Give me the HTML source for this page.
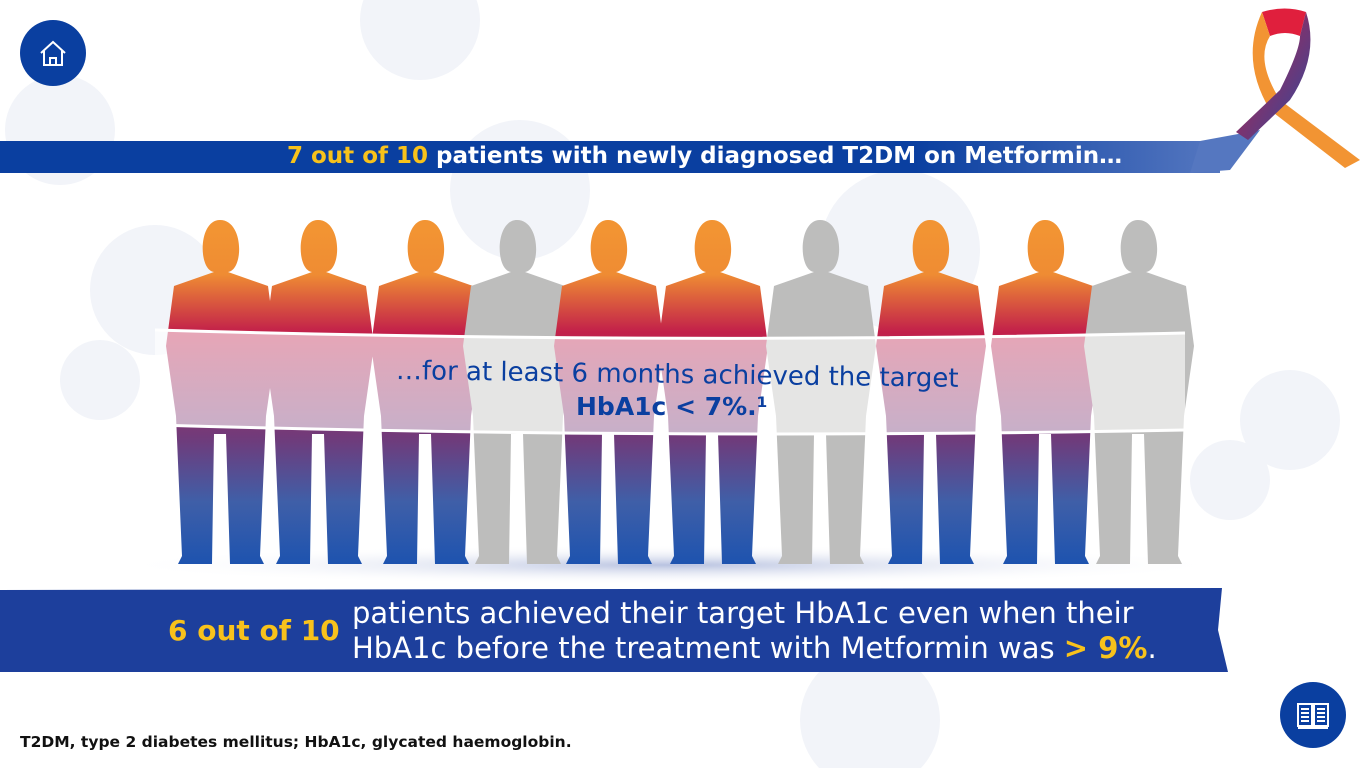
<!DOCTYPE html>
<html><head><meta charset="utf-8"><style>
body{margin:0;width:1366px;height:768px;overflow:hidden;background:#fff;font-family:"DejaVu Sans","Liberation Sans",sans-serif;position:relative}
.abs{position:absolute}
</style></head><body>
<svg class="abs" style="left:0;top:0" width="1366" height="768">
<defs>
<linearGradient id="pg" gradientUnits="userSpaceOnUse" x1="0" y1="230" x2="0" y2="570">
<stop offset="0" stop-color="#f29433"/><stop offset="0.13" stop-color="#ef8c33"/><stop offset="0.3" stop-color="#c2204a"/><stop offset="0.62" stop-color="#6e3c7c"/><stop offset="0.8" stop-color="#3f5fa8"/><stop offset="1" stop-color="#1a52b0"/></linearGradient>
<linearGradient id="tb" x1="0" x2="1"><stop offset="0" stop-color="#0a3fa0"/><stop offset="0.75" stop-color="#0a3fa0"/><stop offset="1" stop-color="#5577c0"/></linearGradient>
<radialGradient id="sh"><stop offset="0" stop-color="#b8c2e0"/><stop offset="1" stop-color="#fff" stop-opacity="0"/></radialGradient>
<linearGradient id="rb" x1="0" y1="0" x2="1" y2="1"><stop offset="0" stop-color="#e8213c"/><stop offset="0.5" stop-color="#7a3470"/><stop offset="1" stop-color="#2a4aa0"/></linearGradient>
</defs>
<g fill="#f2f4f9">
<circle cx="60" cy="130" r="55"/><circle cx="155" cy="290" r="65"/><circle cx="420" cy="20" r="60"/><circle cx="520" cy="190" r="70"/><circle cx="900" cy="250" r="80"/><circle cx="1290" cy="420" r="50"/><circle cx="1230" cy="480" r="40"/><circle cx="870" cy="720" r="70"/><circle cx="100" cy="380" r="40"/>
</g>
<ellipse cx="670" cy="565" rx="560" ry="20" fill="url(#sh)"/>
<rect x="0" y="141" width="1220" height="32" fill="url(#tb)"/>
<path d="M1200 141 L1260 130 L1230 170 L1190 173Z" fill="#5577c0"/>
<g>
<path d="M1262 12 Q1285 5 1306 12 L1300 36 Q1285 30 1270 36Z" fill="#e01f3d"/>
<path d="M1270 36 Q1255 60 1280 100 L1360 160 L1345 168 L1270 110 Q1240 60 1262 12Z" fill="#f29433"/>
<path d="M1306 12 Q1320 55 1290 100 L1248 140 L1236 132 L1280 90 Q1300 50 1300 36Z" fill="url(#rb)"/>
</g>
<g id="people"></g>
<path d="M155 330 Q670 345 1185 333 L1185 430 Q670 440 155 425Z" fill="#fff" fill-opacity="0.6"/>
<path d="M155 330 Q670 345 1185 333" stroke="#fff" stroke-width="3" fill="none"/>
<path d="M155 425 Q670 440 1185 430" stroke="#fff" stroke-width="3" fill="none"/>
<path d="M0 590 L1222 588 L1218 630 L1228 672 L0 672Z" fill="#1d3f9c"/>
</svg>
<script>
const xs=[220,318,425,517,608,712,820,930,1045,1138];
const achieved=[1,1,1,0,1,1,0,1,1,0];
const g=document.getElementById('people');
xs.forEach((x,i)=>{
 const f=achieved[i]?'url(#pg)':'#bdbdbc';
 const p=document.createElementNS('http://www.w3.org/2000/svg','path');
 p.setAttribute('d',`M${x} 220 c-22 0 -22 50 -6 52 l-40 14 l-8 60 l10 70 l6 140 l-4 8 l34 0 l2 -130 l12 0 l4 130 l34 0 l-4 -8 l6 -140 l10 -70 l-8 -60 l-40 -14 c16 -2 16 -52 -8 -52z`);
 p.setAttribute('fill',f);
 
 
 g.appendChild(p);
});
</script>
<div class="abs" style="left:20px;top:20px;width:66px;height:66px;border-radius:50%;background:#0a3fa0">
<svg width="66" height="66"><path d="M21 33 L33 22 L45 33 M24 31 V45 H42 V31 M30 45 V38 H36 V45" stroke="#fff" stroke-width="2" fill="none"/></svg></div>
<div class="abs" style="left:1280px;top:682px;width:66px;height:66px;border-radius:50%;background:#0a3fa0">
<svg width="66" height="66"><path d="M18 22 H32 V44 H18Z M34 22 H48 V44 H34Z M21 27H29M21 31H29M21 35H29M21 39H29M37 27H45M37 31H45M37 35H45M37 39H45 M18 46 H48" stroke="#fff" stroke-width="2" fill="none"/></svg></div>
<div class="abs" style="left:287px;top:143px;font-size:23px;font-weight:bold;color:#fff;white-space:nowrap"><span style="color:#f8c21b">7 out of 10</span> patients with newly diagnosed T2DM on Metformin…</div>
<div class="abs" style="left:396px;top:356px;font-size:26px;color:#0a3fa0;white-space:nowrap;transform:rotate(0.8deg);transform-origin:left">…for at least 6 months achieved the target</div>
<div class="abs" style="left:576px;top:392px;font-size:25px;font-weight:bold;color:#0a3fa0;white-space:nowrap">HbA1c &lt; 7%.¹</div>
<div class="abs" style="left:168px;top:614px;font-size:28px;font-weight:bold;color:#f8c21b;white-space:nowrap">6 out of 10</div>
<div class="abs" style="left:352px;top:596px;font-size:29px;line-height:35px;color:#fff;white-space:nowrap">patients achieved their target HbA1c even when their<br>HbA1c before the treatment with Metformin was <b style="color:#f8c21b">&gt; 9%</b>.</div>
<div class="abs" style="left:20px;top:733px;font-size:15.5px;font-weight:bold;color:#111;white-space:nowrap">T2DM, type 2 diabetes mellitus; HbA1c, glycated haemoglobin.</div>
</body></html>
